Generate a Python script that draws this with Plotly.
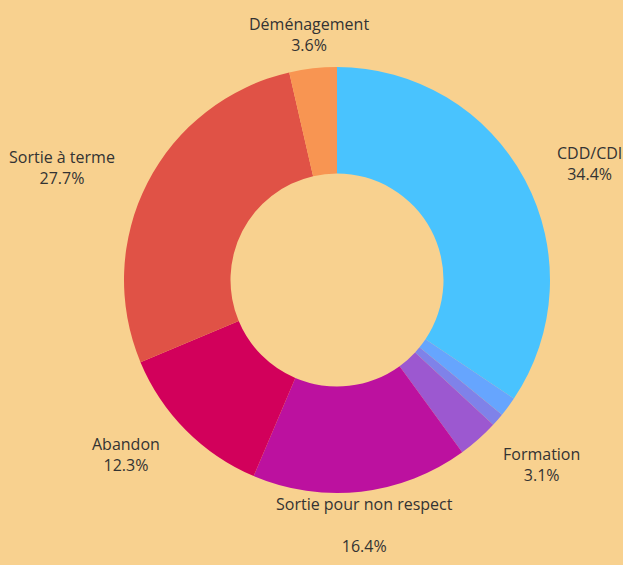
import math
import plotly.graph_objects as go

labels = ["CDD/CDI", "Autre 1", "Autre 2", "Formation", "Sortie pour non respect",
          "Abandon", "Sortie à terme", "Déménagement"]
values = [34.4, 1.5, 1.0, 3.1, 16.4, 12.3, 27.7, 3.6]
colors = ["#49C3FE", "#66A5FE", "#7F82E9", "#9C58D0", "#BC119F",
          "#D2005B", "#E05246", "#F89552"]
show_label = [True, False, False, True, True, True, True, True]

W, H = 623, 565
CX, CY, R = 337, 280, 213          # pie centre / radius in pixels
LAB_R = 247                        # label anchor radius

fig = go.Figure(go.Pie(
    labels=labels,
    values=values,
    hole=0.5,
    sort=False,
    direction="clockwise",
    rotation=0,
    marker=dict(colors=colors, line=dict(width=0)),
    textinfo="none",
    showlegend=False,
    hoverinfo="label+percent",
    domain=dict(x=[(CX - R) / W, (CX + R) / W], y=[1 - (CY + R) / H, 1 - (CY - R) / H]),
))

total = sum(values)
cum = 0.0
annotations = []
for lab, val, show in zip(labels, values, show_label):
    mid = (cum + val / 2) / total * 2 * math.pi
    cum += val
    if not show:
        continue
    pct = f"{val / total * 100:.1f}%"
    sep = "<br><br>" if lab == "Sortie pour non respect" else "<br>"
    s, c = math.sin(mid), math.cos(mid)
    px = CX + LAB_R * s
    py = CY - LAB_R * c
    xanchor = "left" if s > 0.3 else ("right" if s < -0.3 else "center")
    annotations.append(dict(
        x=px / W, y=1 - py / H, xref="paper", yref="paper",
        text=f"{lab}{sep}{pct}", showarrow=False,
        xanchor=xanchor, yanchor="middle", align="center",
        font=dict(family="Open Sans", size=16, color="#333333"),
    ))

fig.update_layout(
    width=W, height=H,
    paper_bgcolor="#F8D18F",
    plot_bgcolor="#F8D18F",
    margin=dict(l=0, r=0, t=0, b=0),
    font=dict(family="Open Sans", size=16, color="#333333"),
    annotations=annotations,
)

fig.write_html(
    "out.html",
    config={"displayModeBar": False},
    post_script="document.body.style.margin='0';document.body.style.background='#F8D18F';",
)
